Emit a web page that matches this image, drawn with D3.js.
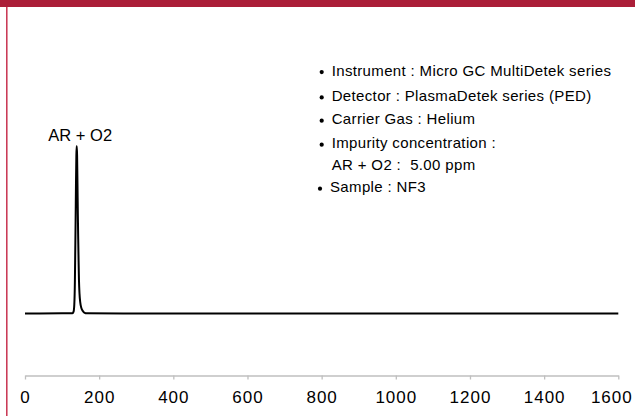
<!DOCTYPE html>
<html><head><meta charset="utf-8">
<script src="https://cdn.jsdelivr.net/npm/d3@7"></script>
<style>
html,body{margin:0;padding:0;background:#fff;}
svg{display:block;}
text{font-family:"Liberation Sans",Arial,sans-serif;}
</style></head>
<body>
<script>
// Chromatogram data (retention time, signal)
const times   = [0, 100, 128, 131, 133, 134.5, 135.5, 136.5, 137.5, 138.5, 139.5, 140.5, 141.5, 142.5, 143.5, 144.5, 145.5, 147, 149, 152, 156, 161, 166, 400, 800, 1200, 1600];
const signals = [0, 0.03, 0.03, 0.3, 1.5, 5, 10, 15, 21, 25.5, 27, 25.5, 21, 16, 12, 8.5, 5.5, 3.2, 1.8, 0.9, 0.4, 0.1, 0.03, 0, 0, 0, 0];
const xTicks  = [0, 200, 400, 600, 800, 1000, 1200, 1400, 1600];
const peakLabel = "AR + O2";
const peakTime = 139.5;
const peakSignal = 27;
const notes = [
  ["Instrument : Micro GC MultiDetek series"],
  ["Detector : PlasmaDetek series (PED)"],
  ["Carrier Gas : Helium"],
  ["Impurity concentration :", "AR + O2 :  5.00 ppm"],
  ["Sample : NF3"]
];

const W = 635, H = 416;
const svg = d3.select("body").append("svg").attr("width", W).attr("height", H);

// frame decorations
svg.append("rect").attr("x", 0).attr("y", 0).attr("width", W).attr("height", 7).attr("fill", "#ab1e38");
svg.append("line").attr("x1", 6.8).attr("x2", 6.8).attr("y1", 7).attr("y2", H)
  .attr("stroke", "#c8324f").attr("stroke-width", 1.5);

const x = d3.scaleLinear().domain([0, 1600]).range([25, 618.3]);
const y = d3.scaleLinear().domain([-10, 50]).range([375.5, 3.5]);

// x axis
const axis = svg.append("g").attr("transform", `translate(0,${y(-10)})`)
  .call(d3.axisBottom(x).tickValues(xTicks).tickSize(4).tickSizeOuter(0).tickFormat(d3.format("d")));
axis.select(".domain").attr("stroke", "#bfbfbf").attr("stroke-width", 1.3);
axis.selectAll(".tick line").attr("stroke", "#bfbfbf").attr("stroke-width", 1.3);
axis.selectAll(".tick text")
  .attr("fill", "#000").attr("font-size", "17px").attr("letter-spacing", "1px")
  .attr("font-family", "'Liberation Sans',Arial,sans-serif")
  .attr("y", 11).attr("dy", "0.95em");
axis.selectAll(".tick text").filter(d => d === 1600).attr("dx", "-7");

// trace
const data = times.map((t, i) => [t, signals[i]]);
svg.append("path").datum(data)
  .attr("fill", "none").attr("stroke", "#000").attr("stroke-width", 2)
  .attr("stroke-linejoin", "round")
  .attr("d", d3.line().x(d => x(d[0])).y(d => y(d[1])).curve(d3.curveMonotoneX));

// peak label
svg.append("text").attr("x", x(peakTime) + 3.5).attr("y", y(peakSignal) - 5)
  .attr("text-anchor", "middle").attr("font-size", "16.5px").attr("fill", "#000")
  .text(peakLabel);

// notes
const baselines = [75.7, 101, 124.3, 148.3, 192.3];
notes.forEach((lines, i) => {
  const by = baselines[i];
  const bx = i === 4 ? 320 : 321.7;
  const tx = i === 4 ? 330 : 331.7;
  svg.append("circle").attr("cx", bx).attr("cy", by - 3.6).attr("r", 2.1).attr("fill", "#000");
  lines.forEach((ln, j) => {
    svg.append("text").attr("x", tx).attr("y", by + j * 21.7)
      .attr("font-size", "15px").attr("letter-spacing", "0.35px").attr("fill", "#000")
      .attr("xml:space", "preserve").style("white-space", "pre")
      .text(ln);
  });
});
</script>
</body></html>
